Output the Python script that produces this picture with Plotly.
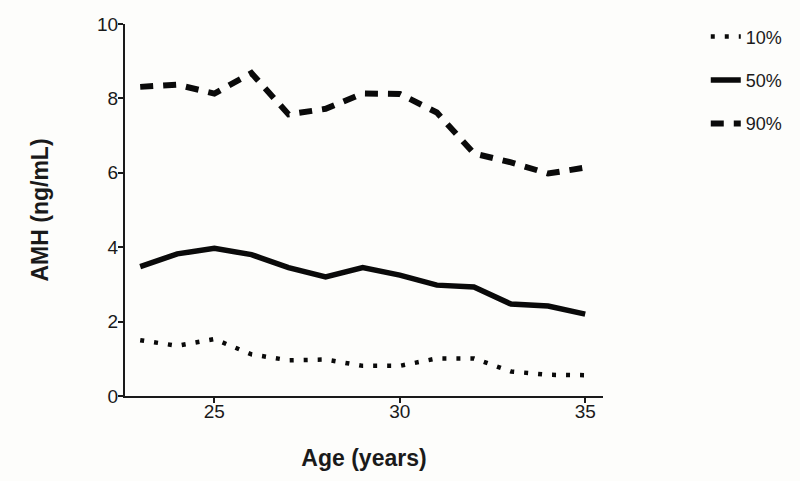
import plotly.graph_objects as go

age = [23, 24, 25, 26, 27, 28, 29, 30, 31, 32, 33, 34, 35]
p10 = [1.50, 1.35, 1.53, 1.12, 0.96, 0.98, 0.81, 0.81, 1.01, 1.01, 0.66, 0.57, 0.56]
p50 = [3.48, 3.82, 3.97, 3.80, 3.45, 3.20, 3.45, 3.25, 2.98, 2.93, 2.47, 2.42, 2.20]
p90 = [8.31, 8.37, 8.13, 8.68, 7.57, 7.72, 8.13, 8.12, 7.62, 6.52, 6.28, 5.98, 6.14]
names = ["10%", "50%", "90%"]

fig = go.Figure()
fig.add_trace(go.Scatter(x=age, y=p10, mode="lines", name=names[0], legendgroup="a",
                         line=dict(color="#0a0a0a", width=4.5, dash="4px,10px")))
fig.add_trace(go.Scatter(x=age, y=p50, mode="lines", name=names[1], legendgroup="b",
                         line=dict(color="#0a0a0a", width=5.5)))
fig.add_trace(go.Scatter(x=age, y=p90, mode="lines", name=names[2], legendgroup="c",
                         line=dict(color="#0a0a0a", width=6, dash="13px,10px")))

axis_common = dict(showline=True, linecolor="#1a1a1a", linewidth=2, showgrid=False,
                   zeroline=False, ticks="outside", ticklen=5, tickwidth=1.5,
                   tickcolor="#1a1a1a", automargin=False,
                   tickfont=dict(family="Liberation Sans, Arial", size=19, color="#1a1a1a"))

fig.update_layout(
    width=800, height=481,
    margin=dict(l=125, r=186, t=24, b=85),
    paper_bgcolor="#fdfdfb", plot_bgcolor="#fdfdfb",
    xaxis=dict(range=[22.59, 35.48], tickvals=[25, 30, 35], ticklabelstandoff=-8,
               title=dict(text="<b>Age (years)</b>", standoff=29,
                          font=dict(family="Liberation Sans, Arial", size=23, color="#1a1a1a")),
               **axis_common),
    yaxis=dict(range=[0, 10], tickvals=[0, 2, 4, 6, 8, 10], ticklabelstandoff=-4,
               title=dict(text="<b>AMH (ng/mL)</b>", standoff=42,
                          font=dict(family="Liberation Sans, Arial", size=23, color="#1a1a1a")),
               **axis_common),
    legend=dict(x=1.215, y=1.015, xanchor="left", yanchor="top", itemwidth=30,
                tracegroupgap=17, bgcolor="rgba(0,0,0,0)",
                font=dict(family="Liberation Sans, Arial", size=18, color="#1a1a1a")),
)

fig.write_html("out.html", config={"displayModeBar": False},
               post_script="document.body.style.margin='0';document.body.style.overflow='hidden';")
